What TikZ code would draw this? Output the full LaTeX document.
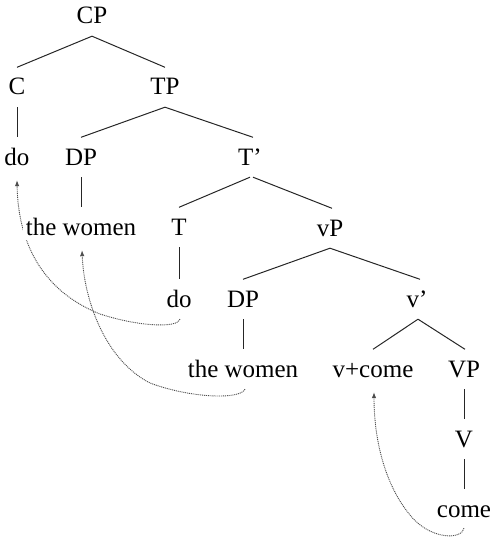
\documentclass[tikz,border=0pt]{standalone}
\usepackage{fontspec}
\setmainfont{Liberation Serif}
\usetikzlibrary{calc,arrows.meta}
\pgfdeclarelayer{bg}
\pgfsetlayers{bg,main}
\begin{document}
\begin{tikzpicture}[x=1pt,y=-1pt,
  lbl/.style={anchor=base,fill=white,inner xsep=3pt,inner ysep=0pt,text height=17pt,text depth=5pt,font=\fontsize{25}{30}\selectfont},
  branch/.style={draw=black!85,line width=1pt},
  mv/.style={draw=black!70,dash pattern=on 1pt off 0.9pt,line width=0.9pt,-{Latex[length=6pt,width=4.5pt]}}]
\useasboundingbox (0,0) rectangle (491,540);
\node[lbl] (CP) at (92,24) {CP};
\node[lbl] (C) at (17,95) {C};
\node[lbl] (TP) at (165,95) {TP};
\node[lbl] (do1) at (17,165) {do};
\node[lbl] (DP1) at (81,165) {DP};
\node[lbl] (Tb) at (250,165) {T'};
\node[lbl] (tw1) at (81,235) {the women};
\node[lbl] (T) at (179,235) {T};
\node[lbl] (vP) at (330,236) {vP};
\node[lbl] (do2) at (179,307) {do};
\node[lbl] (DP2) at (243,307) {DP};
\node[lbl] (vb) at (417,307) {v'};
\node[lbl] (tw2) at (243,377) {the women};
\node[lbl] (vc) at (373,377) {v+come};
\node[lbl] (VP) at (464,377) {VP};
\node[lbl] (V) at (464,447) {V};
\node[lbl] (come) at (464,517) {come};
\newcommand\brline[2]{\draw[branch] ($(#1.south)+(0,7)$) -- ($(#2.north)+(0,-10.5)$);}
\brline{CP}{C}
\brline{CP}{TP}
\brline{C}{do1}
\brline{TP}{DP1}
\draw[branch] ($(TP.south)+(0,7)$) -- ($(Tb.north)+(3,-10.5)$);
\brline{DP1}{tw1}
\brline{Tb}{T}
\draw[branch] ($(Tb.south)+(3,7)$) -- ($(vP.north)+(2,-10.5)$);
\brline{T}{do2}
\brline{vP}{DP2}
\draw[branch] ($(vP.south)+(0,7)$) -- ($(vb.north)+(3,-10.5)$);
\brline{DP2}{tw2}
\draw[branch] ($(vb.south)+(1,7)$) -- ($(vc.north)+(0,-10.5)$);
\draw[branch] ($(vb.south)+(1,7)$) -- ($(VP.north)+(1,-10.5)$);
\brline{VP}{V}
\brline{V}{come}
\begin{pgfonlayer}{bg}
\draw[mv] ($(do2.south)+(1,7)$) .. controls (178,328) and (140,327) .. (100,314) .. controls (40,290) and (18,240) .. ($(do1.south)+(0,10)$);
\draw[mv] ($(tw2.south)+(2,7)$) .. controls (240,400) and (190,398) .. (150,383) .. controls (105,360) and (84,300) .. ($(tw1.south)+(1,10)$);
\draw[mv] ($(come.south)+(0,6)$) .. controls (462,540) and (430,540) .. (410,515) .. controls (385,485) and (374,440) .. ($(vc.south)+(1,10)$);
\end{pgfonlayer}
\end{tikzpicture}
\end{document}
